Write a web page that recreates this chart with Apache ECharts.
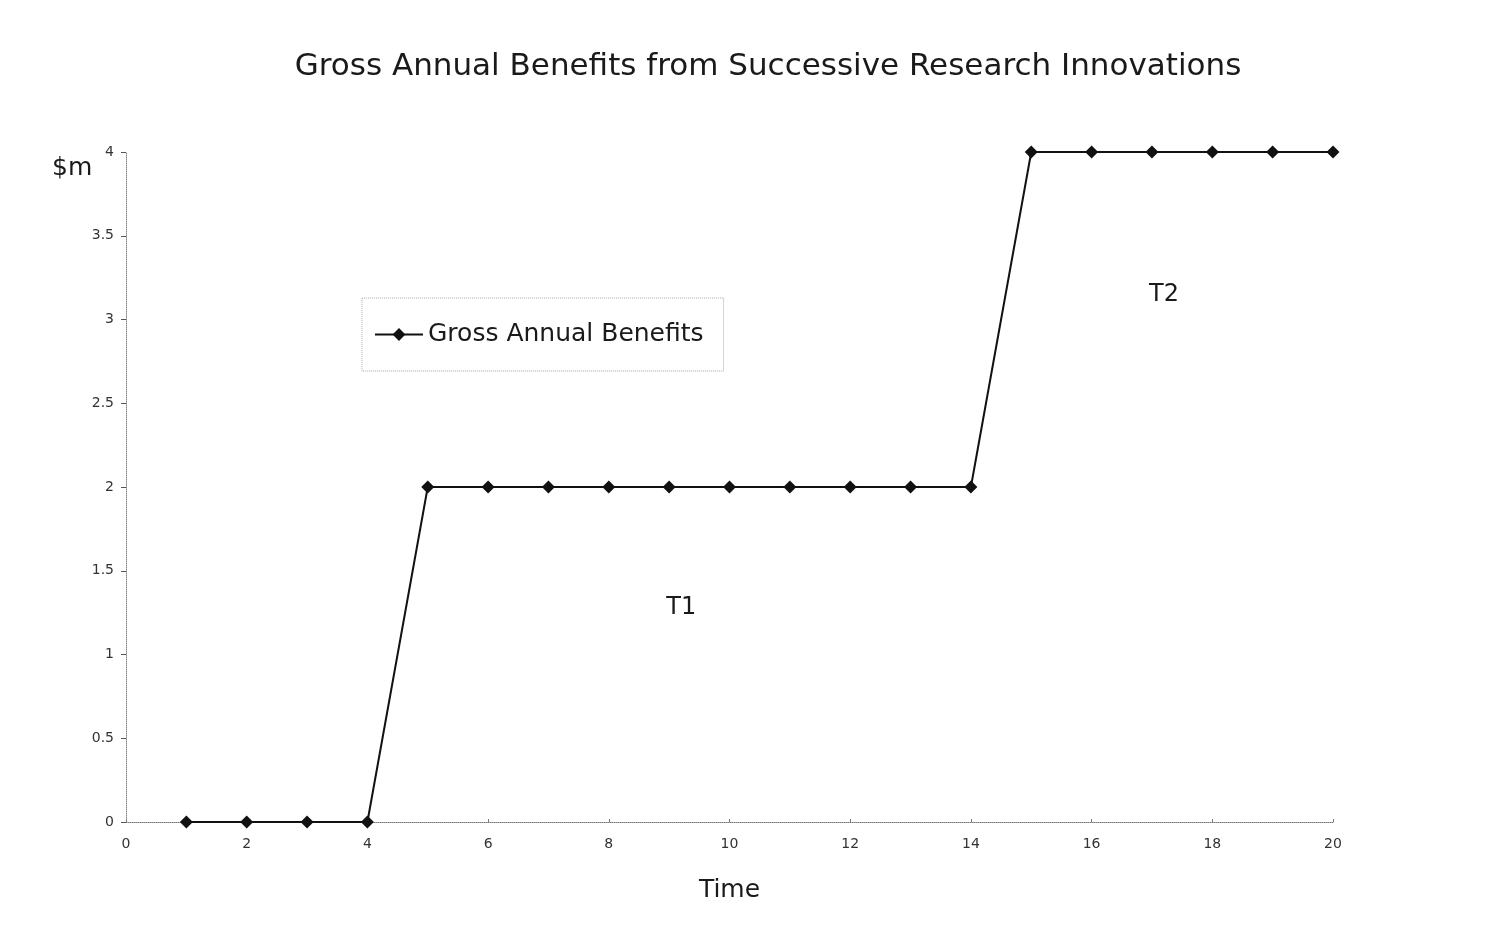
<!DOCTYPE html>
<html>
<head>
<meta charset="utf-8">
<script src="https://cdn.jsdelivr.net/npm/echarts@6/dist/echarts.min.js"></script>
<style>
  html, body { margin: 0; padding: 0; background: #fff; }
  #chart { width: 1506px; height: 932px; }
</style>
</head>
<body>
<div id="chart"></div>
<script>
// Time periods and gross annual benefits ($m)
const years = [1, 2, 3, 4, 5, 6, 7, 8, 9, 10, 11, 12, 13, 14, 15, 16, 17, 18, 19, 20];
const benefits = [0, 0, 0, 0, 2, 2, 2, 2, 2, 2, 2, 2, 2, 2, 4, 4, 4, 4, 4, 4];
// Innovation period labels and where they sit on the data axes
const periodLabels = ['T1', 'T2'];
const periodPositions = [[9.2, 1.28], [17.2, 3.15]];

const FONT = '"DejaVu Sans", Verdana, sans-serif';
const chart = echarts.init(document.getElementById('chart'));

chart.setOption({
  backgroundColor: '#ffffff',
  animation: false,
  title: {
    text: 'Gross Annual Benefits from Successive Research Innovations',
    left: 763,
    textAlign: 'center',
    top: 46,
    textStyle: { fontFamily: FONT, fontSize: 31, fontWeight: 'normal', color: '#1a1a1a' }
  },
  legend: {
    left: 362,
    top: 298,
    padding: [24, 20, 24, 12],
    borderColor: '#aaa',
    borderWidth: 1,
    borderType: 'dotted',
    itemWidth: 48,
    itemHeight: 16,
    itemGap: 8,
    textStyle: { fontFamily: FONT, fontSize: 25, color: '#1a1a1a' },
    data: ['Gross Annual Benefits']
  },
  grid: { left: 126, right: 173, top: 152, bottom: 110, containLabel: false },
  xAxis: {
    type: 'value',
    min: 0,
    max: 20,
    interval: 2,
    name: 'Time',
    nameLocation: 'middle',
    nameGap: 56,
    nameTextStyle: { fontFamily: FONT, fontSize: 25, color: '#1a1a1a' },
    axisLine: { show: true, onZero: false, lineStyle: { color: '#777', type: 'dotted', width: 1 } },
    axisTick: { show: true, length: 3, inside: true, lineStyle: { color: '#777' } },
    axisLabel: { fontFamily: FONT, fontSize: 14, color: '#333', margin: 15 },
    splitLine: { show: false }
  },
  yAxis: {
    type: 'value',
    min: 0,
    max: 4,
    interval: 0.5,
    axisLine: { show: true, lineStyle: { color: '#888', type: 'dotted', width: 1 } },
    axisTick: { show: true, length: 5, inside: false, lineStyle: { color: '#555' } },
    axisLabel: { fontFamily: FONT, fontSize: 14, color: '#333', margin: 12 },
    splitLine: { show: false }
  },
  graphic: [
    {
      type: 'text',
      left: 52,
      top: 156,
      style: { text: '$m', font: '25px ' + FONT, fill: '#1a1a1a' }
    }
  ],
  series: [
    {
      name: 'Gross Annual Benefits',
      type: 'line',
      data: years.map((x, i) => [x, benefits[i]]),
      symbol: 'diamond',
      symbolSize: 13,
      showAllSymbol: true,
      lineStyle: { color: '#111', width: 2 },
      itemStyle: { color: '#111' },
      markPoint: {
        symbol: 'circle',
        symbolSize: 1,
        itemStyle: { color: 'rgba(0,0,0,0)' },
        label: {
          show: true,
          position: 'inside',
          fontFamily: FONT,
          fontSize: 24,
          color: '#1a1a1a',
          formatter: p => p.name
        },
        data: periodLabels.map((name, i) => ({ name: name, coord: periodPositions[i] }))
      }
    }
  ]
});
</script>
</body>
</html>
